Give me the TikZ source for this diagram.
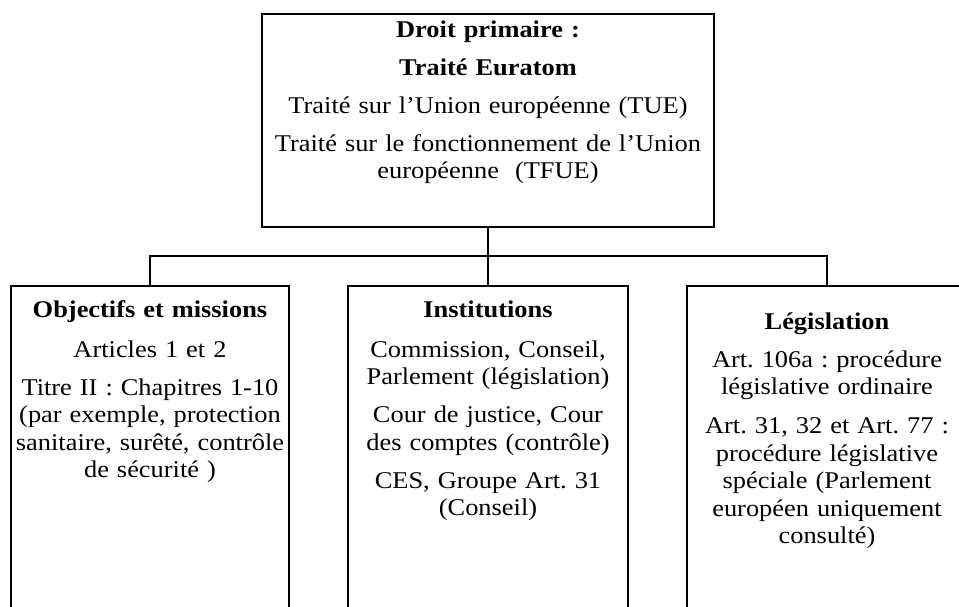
\documentclass[tikz,border=0pt]{standalone}
\usepackage{fontspec}
\setmainfont{Liberation Serif}[FakeStretch=1.1]
\frenchspacing
\begin{document}
\begin{tikzpicture}[x=1pt, y=-1pt,
    frame/.style={draw, line width=2pt, rectangle, inner sep=0pt},
    link/.style={draw, line width=2pt},
    boxtext/.style={anchor=base, inner sep=0pt, text width=700pt, align=center,
      font=\fontsize{24}{27.5}\selectfont}]
  \useasboundingbox (0,0) rectangle (959,606);
  \clip (0,0) rectangle (959,606);

  % primary law box and the three branches below it
  \node[frame, minimum width=452pt, minimum height=213pt, anchor=north] (top) at (488,13) {};
  \node[frame, minimum width=278pt, minimum height=400pt, anchor=north] (left) at (150,285) {};
  \node[frame, minimum width=280pt, minimum height=400pt, anchor=north] (mid) at (488,285) {};
  \node[frame, minimum width=280pt, minimum height=400pt, anchor=north] (right) at (827,285) {};

  % connectors
  \coordinate (split) at (488,256);
  \draw[link] (top.south) -- (mid.north);
  \draw[link] (left.north) |- (split) -| (right.north);

  % texts
  \node[boxtext] (toptext) at (488,37) {\textbf{Droit primaire :}\\[10.5pt]
    \textbf{Traité Euratom}\\[10.5pt]
    Traité sur l’Union européenne (TUE)\\[10.5pt]
    Traité sur le fonctionnement de l’Union\\
    européenne~~(TFUE)};
  \node[boxtext] (lefttext) at (150,317) {\textbf{Objectifs et missions}\\[12.5pt]
    Articles 1 et 2\\[10.5pt]
    Titre II : Chapitres 1-10\\
    (par exemple, protection\\
    sanitaire, surêté, contrôle\\
    de sécurité )};
  \node[boxtext] (midtext) at (488,317) {\textbf{Institutions}\\[12.5pt]
    Commission, Conseil,\\
    Parlement (législation)\\[10.5pt]
    Cour de justice, Cour\\
    des comptes (contrôle)\\[10.5pt]
    CES, Groupe Art. 31\\
    (Conseil)};
  \node[boxtext] (righttext) at (827,329) {\textbf{Législation}\\[10.5pt]
    Art. 106a : procédure\\
    législative ordinaire\\[11.5pt]
    Art. 31, 32 et Art. 77 :\\
    procédure législative\\
    spéciale (Parlement\\
    européen uniquement\\
    consulté)};
\end{tikzpicture}
\end{document}
